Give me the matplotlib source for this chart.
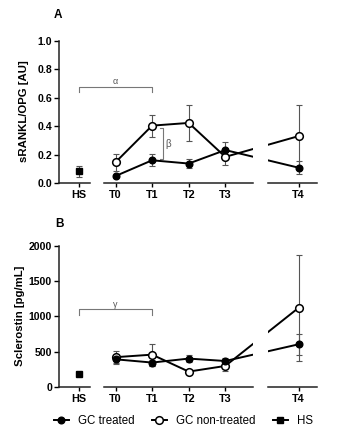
import matplotlib
matplotlib.use("Agg")
import matplotlib.pyplot as plt
from matplotlib.lines import Line2D
import numpy as np

plt.rcParams['font.family'] = ['Liberation Sans', 'DejaVu Sans']

# ---- data ----
time_labels = ["T0", "T1", "T2", "T3", "T4"]
time_pos = [0, 1, 2, 3, 5]
hs_label = "HS"
hs_pos = -1

# Panel A: sRANKL/OPG [AU]
a_treated = [0.049, 0.160, 0.137, 0.232, 0.108]
a_treated_err = [0.010, 0.042, 0.033, 0.060, 0.046]
a_nontreated = [0.146, 0.404, 0.423, 0.184, 0.330]
a_nontreated_err = [0.058, 0.077, 0.124, 0.055, 0.222]
a_hs = 0.082
a_hs_err = 0.038

# Panel B: Sclerostin [pg/mL]
b_treated = [392, 346, 402, 368, 604]
b_treated_err = [66, 42, 52, 36, 152]
b_nontreated = [422, 458, 218, 298, 1120]
b_nontreated_err = [88, 155, 20, 68, 745]
b_hs = 180
b_hs_err = 18

W, H = 357, 444
fig = plt.figure(figsize=(W / 100, H / 100), dpi=100)

unit = 36.6       # px per x unit
x0_px = 115.5     # pixel position of T0
segments = [(59, 90), (104, 253), (268, 317)]


def make_axes(top_px, bottom_px):
    axs = []
    for (l, r) in segments:
        ax = fig.add_axes([l / W, 1 - bottom_px / H, (r - l) / W, (bottom_px - top_px) / H])
        ax.set_xlim((l - x0_px) / unit, (r - x0_px) / unit)
        axs.append(ax)
    return axs


def style_axes(axs, ylim, yticks, yticklabels):
    for i, ax in enumerate(axs):
        ax.set_ylim(*ylim)
        for s in ["top", "right"]:
            ax.spines[s].set_visible(False)
        ax.spines["bottom"].set_color("#222222")
        ax.spines["bottom"].set_linewidth(1.1)
        if i == 0:
            ax.spines["left"].set_color("#222222")
            ax.spines["left"].set_linewidth(1.1)
            ax.set_yticks(yticks)
            ax.set_yticklabels(yticklabels, fontsize=7.6, fontweight="bold")
            ax.tick_params(axis="y", length=3.5, width=1, pad=1.5)
        else:
            ax.spines["left"].set_visible(False)
            ax.set_yticks([])
        ax.patch.set_alpha(0)
    axs[0].set_xticks([hs_pos])
    axs[0].set_xticklabels([hs_label], fontsize=7.8, fontweight="bold")
    axs[1].set_xticks(time_pos[:4])
    axs[1].set_xticklabels(time_labels[:4], fontsize=7.8, fontweight="bold")
    axs[2].set_xticks(time_pos[4:])
    axs[2].set_xticklabels(time_labels[4:], fontsize=7.8, fontweight="bold")
    for ax in axs:
        ax.tick_params(axis="x", length=3, width=1, pad=2)


def draw_series(axs, tr, tr_e, nt, nt_e, hs, hs_e):
    ekw = dict(ecolor="#555555", elinewidth=0.8, capsize=2, capthick=0.8)
    for ax in axs[1:]:
        ax.errorbar(time_pos, nt, yerr=nt_e, fmt="none", zorder=2, **ekw)
        ax.errorbar(time_pos, tr, yerr=tr_e, fmt="none", zorder=2, **ekw)
        ax.plot(time_pos, nt, "-o", color="black", lw=1.4, ms=5.5,
                mfc="white", mec="black", mew=1.1, zorder=3)
        ax.plot(time_pos, tr, "-o", color="black", lw=1.4, ms=4.8,
                mfc="black", mec="black", zorder=4)
    axs[0].errorbar([hs_pos], [hs], yerr=[hs_e], fmt="none", zorder=2, **ekw)
    axs[0].plot([hs_pos], [hs], "s", color="black", ms=4.8, zorder=3)


# ---- Panel A ----
axA = make_axes(41, 183)
draw_series(axA, a_treated, a_treated_err, a_nontreated, a_nontreated_err, a_hs, a_hs_err)
style_axes(axA, (0, 1.0), [0, 0.2, 0.4, 0.6, 0.8, 1.0],
           ["0.0", "0.2", "0.4", "0.6", "0.8", "1.0"])
br = dict(color="#777777", lw=0.8, clip_on=False)
axA[1].plot([-1, -1, 1, 1], [0.64, 0.678, 0.678, 0.64], **br)
axA[1].text(0, 0.685, "α", ha="center", va="bottom", fontsize=6.5, color="#555555")
axA[1].plot([1.22, 1.29, 1.29, 1.22], [0.39, 0.39, 0.169, 0.169], **br)
axA[1].text(1.36, 0.275, "β", ha="left", va="center", fontsize=7, color="#555555")

# ---- Panel B ----
axB = make_axes(245.7, 387)
draw_series(axB, b_treated, b_treated_err, b_nontreated, b_nontreated_err, b_hs, b_hs_err)
style_axes(axB, (0, 2000), [0, 500, 1000, 1500, 2000],
           ["0", "500", "1000", "1500", "2000"])
axB[1].plot([-1, -1, 1, 1], [1020, 1098, 1098, 1020], **br)
axB[1].text(0, 1105, "γ", ha="center", va="bottom", fontsize=6.5, color="#555555")

# y labels and panel letters
fig.text(24 / W, 1 - 111 / H, "sRANKL/OPG [AU]", rotation=90, ha="center", va="center",
         fontsize=8.2, fontweight="bold")
fig.text(20 / W, 1 - 316 / H, "Sclerostin [pg/mL]", rotation=90, ha="center", va="center",
         fontsize=8.2, fontweight="bold")
fig.text(58 / W, 1 - 15 / H, "A", ha="center", va="center", fontsize=8.5, fontweight="bold")
fig.text(59 / W, 1 - 224 / H, "B", ha="center", va="center", fontsize=8.5, fontweight="bold")

# legend
handles = [
    Line2D([], [], color="black", lw=1.4, marker="o", ms=4.8, mfc="black"),
    Line2D([], [], color="black", lw=1.4, marker="o", ms=5.5, mfc="white", mew=1.1),
    Line2D([], [], color="black", lw=1.4, marker="s", ms=4.5),
]
fig.legend(handles, ["GC treated", "GC non-treated", "HS"], loc="center",
           bbox_to_anchor=(0.514, 1 - 421 / H), ncol=3, frameon=False, fontsize=8.3,
           handlelength=1.3, handletextpad=0.8, columnspacing=1.5)

fig.savefig("out.png", dpi=100)
